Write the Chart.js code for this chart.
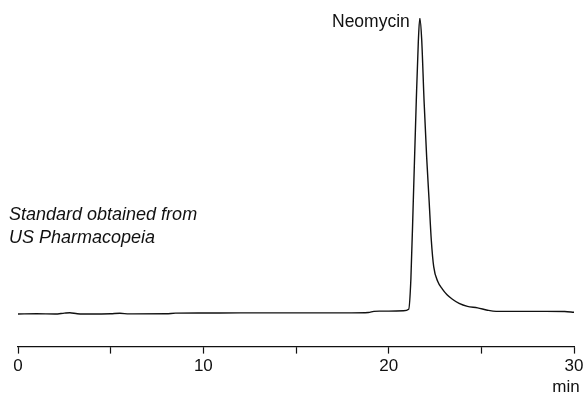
<!DOCTYPE html>
<html>
<head>
<meta charset="utf-8">
<script src="https://cdn.jsdelivr.net/npm/chart.js@4/dist/chart.umd.min.js"></script>
<style>
  html, body { margin: 0; padding: 0; background: #fff; }
  #wrap { width: 587px; height: 395px; position: relative; }
</style>
</head>
<body>
<div id="wrap"><canvas id="chrom"></canvas></div>
<script>
/* Neomycin chromatogram — retention time (min) vs detector response */

const times = [0, 1, 2, 2.5, 2.8, 3.2, 4, 5, 5.5, 6, 8, 8.5, 10, 12, 15, 18, 18.9, 19.2, 19.5, 20, 20.8,
  21.08, 21.2, 21.33, 21.49, 21.6, 21.68, 21.78, 21.91, 22.05, 22.18, 22.3, 22.43, 22.65, 22.9, 23.15, 23.44,
  23.8, 24.25, 24.8, 25.33, 25.8, 26.5, 27.5, 28.5, 29.5, 30];
const response = [0, 0.1, 0, 0.3, 0.45, 0.1, 0, 0.1, 0.25, 0.05, 0.1, 0.3, 0.35, 0.4, 0.4, 0.4, 0.5, 0.9, 1.0, 1.0, 1.1,
  1.6, 12, 38.5, 72, 92, 100, 93, 72, 53, 38.5, 25, 16, 11, 8.4, 6.5, 5,
  3.6, 2.6, 2.1, 1.3, 0.9, 0.9, 0.9, 0.9, 0.85, 0.6];
const tickValues = [0, 5, 10, 15, 20, 25, 30];
const tickLabels = ['0', '', '10', '', '20', '', '30'];

const peakName = 'Neomycin';
const peakTime = 21.68;
const noteLines = ['Standard obtained from', 'US Pharmacopeia'];

const ink = '#111';
const fontFamily = '"Liberation Sans", Arial, Helvetica, sans-serif';

const textPlugin = {
  id: 'chromText',
  afterDraw(chart) {
    const { ctx, scales } = chart;
    const x = scales.x, y = scales.y;
    ctx.save();
    ctx.fillStyle = ink;
    ctx.textBaseline = 'alphabetic';

    // peak label
    ctx.font = '17.5px ' + fontFamily;
    ctx.textAlign = 'right';
    ctx.fillText(peakName, x.getPixelForValue(peakTime) - 10, y.getPixelForValue(100) + 9);

    // axis unit under the last tick
    ctx.font = '17px ' + fontFamily;
    ctx.textAlign = 'center';
    ctx.fillText('min', x.getPixelForValue(30) - 8, 392);

    // sample note
    ctx.font = 'italic 18px ' + fontFamily;
    ctx.textAlign = 'left';
    noteLines.forEach((line, i) => ctx.fillText(line, 9, 220 + i * 23));
    ctx.restore();
  }
};

new Chart(document.getElementById('chrom'), {
  type: 'line',
  data: {
    datasets: [{
      data: times.map((t, i) => ({ x: t, y: response[i] })),
      borderColor: ink,
      borderWidth: 1.4,
      pointRadius: 0,
      fill: false,
      cubicInterpolationMode: 'monotone'
    }]
  },
  options: {
    responsive: true,
    maintainAspectRatio: false,
    animation: false,
    layout: { padding: { left: 18, right: 13, top: 18, bottom: 15 } },
    plugins: {
      legend: { display: false },
      tooltip: { enabled: false }
    },
    scales: {
      x: {
        type: 'linear',
        min: 0,
        max: 30,
        afterBuildTicks: (axis) => { axis.ticks = tickValues.map((v) => ({ value: v })); },
        ticks: {
          autoSkip: false,
          maxRotation: 0,
          padding: 3,
          color: ink,
          font: { family: fontFamily, size: 17 },
          callback: (v) => tickLabels[tickValues.indexOf(v)]
        },
        grid: {
          drawOnChartArea: false,
          drawTicks: true,
          tickLength: 7,
          tickWidth: 1.2,
          color: ink
        },
        border: { display: true, color: ink, width: 1.2 }
      },
      y: {
        display: false,
        min: -11,
        max: 100
      }
    }
  },
  plugins: [textPlugin]
});
</script>
</body>
</html>
